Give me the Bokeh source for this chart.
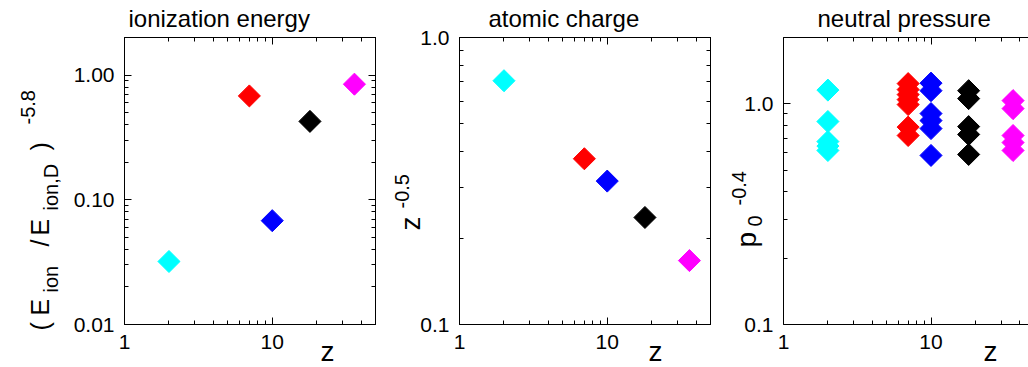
import numpy as np
from bokeh.plotting import figure
from bokeh.models import LogAxis, FixedTicker, PrintfTickFormatter, Range1d
from bokeh.core.properties import value
from bokeh.layouts import row
from bokeh.embed import file_html
from bokeh.resources import INLINE

# ---------------- data ----------------
species = ["He", "N", "Ne", "Ar", "Kr"]
z_values = [2, 7, 10, 18, 36]
colors = ["#00ffff", "#ff0000", "#0000ff", "#000000", "#ff00ff"]

ionization_factor = [0.032, 0.68, 0.068, 0.425, 0.845]
charge_factor = [0.707, 0.378, 0.316, 0.236, 0.167]

pressure_he = [1.155, 0.832, 0.675, 0.644, 0.615]
pressure_n = [1.236, 1.161, 1.102, 1.046, 0.993, 0.785, 0.719]
pressure_ne = [1.242, 1.148, 0.904, 0.840, 0.773, 0.584]
pressure_ar = [1.148, 1.057, 0.789, 0.727, 0.590]
pressure_kr = [1.035, 0.952, 0.719, 0.668, 0.615]

titles = ["ionization energy", "atomic charge", "neutral pressure"]

FONT = "Liberation Sans"
TICK_SIZE = "21px"
MARKER = 15.6
H = 367
TOP, BOTTOM = 37, 324
BASE_SHIFT = 0.35  # em offset between requested and rendered alphabetic baseline

x_major = [1, 10]
x_minor = [m * 10 ** d for d in range(0, 2) for m in range(2, 10)] + [50]


def decade_minor(lo, hi):
    return [m * 10.0 ** d for d in range(lo, hi) for m in range(2, 10)]


def style_axis(ax, ticks, minor, fmt, labels=True):
    ax.ticker = FixedTicker(ticks=ticks, minor_ticks=minor)
    ax.formatter = PrintfTickFormatter(format=fmt)
    ax.major_tick_in = 7
    ax.major_tick_out = 0
    ax.minor_tick_in = 4
    ax.minor_tick_out = 0
    ax.axis_line_color = "black"
    ax.axis_line_width = 1
    ax.major_tick_line_color = "black"
    ax.minor_tick_line_color = "black"
    ax.major_label_text_font = FONT
    ax.major_label_text_font_size = TICK_SIZE
    ax.major_label_text_color = "black"
    ax.major_label_standoff = 10
    if not labels:
        ax.major_label_text_font_size = "1px"
        ax.major_label_text_color = None
        ax.major_label_standoff = 0


class Panel:
    def __init__(self, origin, width, left, right, x_end, y_lo, y_hi, y_fmt, y_ticks, y_minor,
                 mirror_right=True):
        self.origin = origin
        self.fl, self.fr = left, width - right
        self.x0, self.x1, self.y0, self.y1 = 1.0, x_end, y_lo, y_hi
        p = figure(width=width, height=H, x_axis_type="log", y_axis_type="log",
                   x_range=Range1d(1, x_end), y_range=Range1d(y_lo, y_hi),
                   output_backend="svg", toolbar_location=None,
                   min_border_left=left, min_border_right=right,
                   min_border_top=TOP, min_border_bottom=H - BOTTOM)
        p.xgrid.grid_line_color = None
        p.ygrid.grid_line_color = None
        p.background_fill_color = "white"
        p.border_fill_color = "white"
        p.outline_line_color = "black" if mirror_right else None
        p.outline_line_width = 1
        style_axis(p.xaxis[0], x_major, x_minor, "%d")
        style_axis(p.yaxis[0], y_ticks, y_minor, y_fmt)
        top = LogAxis()
        style_axis(top, x_major, x_minor, "%d", labels=False)
        p.add_layout(top, "above")
        if mirror_right:
            rt = LogAxis()
            style_axis(rt, y_ticks, y_minor, y_fmt, labels=False)
            p.add_layout(rt, "right")
        self.p = p

    def to_data(self, X, Y):
        X = X - self.origin
        xv = self.x0 * 10 ** ((X - self.fl) / (self.fr - self.fl) * np.log10(self.x1 / self.x0))
        yv = self.y0 * 10 ** ((BOTTOM - Y) / (BOTTOM - TOP) * np.log10(self.y1 / self.y0))
        return xv, yv

    def text(self, X, Y, txt, size, rotated=False, align="left"):
        px_size = float(size.replace("px", ""))
        if rotated:
            X -= BASE_SHIFT * px_size
        else:
            Y -= BASE_SHIFT * px_size
        xv, yv = self.to_data(X, Y)
        self.p.text(x=[xv], y=[yv], text=[txt], angle=np.pi / 2 if rotated else 0,
                    text_font=value(FONT), text_font_size=value(size), text_color="black",
                    text_align=align, text_baseline="alphabetic", level="overlay")


# ---------------- panel 1 (page x 0..385, frame 124..375) ----------------
P1 = Panel(0, 385, 124, 10, 50, 0.01, 2, "%.2f", [0.01, 0.1, 1], decade_minor(-2, 0) + [2])
P1.p.scatter(x=z_values, y=ionization_factor, marker="square", size=MARKER, angle=np.pi / 4,
             fill_color=colors, line_color=colors)
P1.text(128, 26, titles[0], "24px")
P1.text(327, 361, "z", "28px", align="center")
main_x, sub_x, sup_x = 48, 57, 34
for txt, ystart, bx, size in [("(", 330, main_x, "25px"), ("E", 315, main_x, "25px"),
                              ("ion", 292, sub_x, "20px"), ("/", 246, main_x, "25px"),
                              ("E", 235, main_x, "25px"), ("ion,D", 210, sub_x, "20px"),
                              (")", 150, main_x, "25px"), ("-5.8", 124, sup_x, "20px")]:
    P1.text(bx, ystart, txt, size, rotated=True)

# ---------------- panel 2 (page x 385..725, frame 459..710) ----------------
P2 = Panel(385, 340, 74, 15, 50, 0.1, 1, "%.1f", [0.1, 1], decade_minor(-1, 0))
P2.p.scatter(x=z_values, y=charge_factor, marker="square", size=MARKER, angle=np.pi / 4,
             fill_color=colors, line_color=colors)
P2.text(488, 26, titles[1], "24px")
P2.text(655, 361, "z", "28px", align="center")
P2.text(420, 230, "z", "28px", rotated=True)
P2.text(408, 208, "-0.5", "20px", rotated=True)

# ---------------- panel 3 (page x 725..1028, frame 783..) ----------------
pressure_sets = [pressure_he, pressure_n, pressure_ne, pressure_ar, pressure_kr]
px, py, pc = [], [], []
for zval, col, vals in zip(z_values, colors, pressure_sets):
    px += [zval] * len(vals)
    py += vals
    pc += [col] * len(vals)
P3 = Panel(725, 303, 58, 0, 10 ** (245 / 147.5), 0.1, 2, "%.1f", [0.1, 1],
           decade_minor(-1, 0) + [2], mirror_right=False)
P3.p.scatter(x=px, y=py, marker="square", size=MARKER, angle=np.pi / 4,
             fill_color=pc, line_color=pc)
P3.text(817, 26, titles[2], "24px")
P3.text(990, 361, "z", "28px", align="center")
P3.text(756, 247, "p", "28px", rotated=True)
P3.text(761, 226, "0", "20px", rotated=True)
P3.text(745, 205, "-0.4", "20px", rotated=True)

layout = row(P1.p, P2.p, P3.p)
open("out.html", "w").write(file_html(layout, INLINE))
